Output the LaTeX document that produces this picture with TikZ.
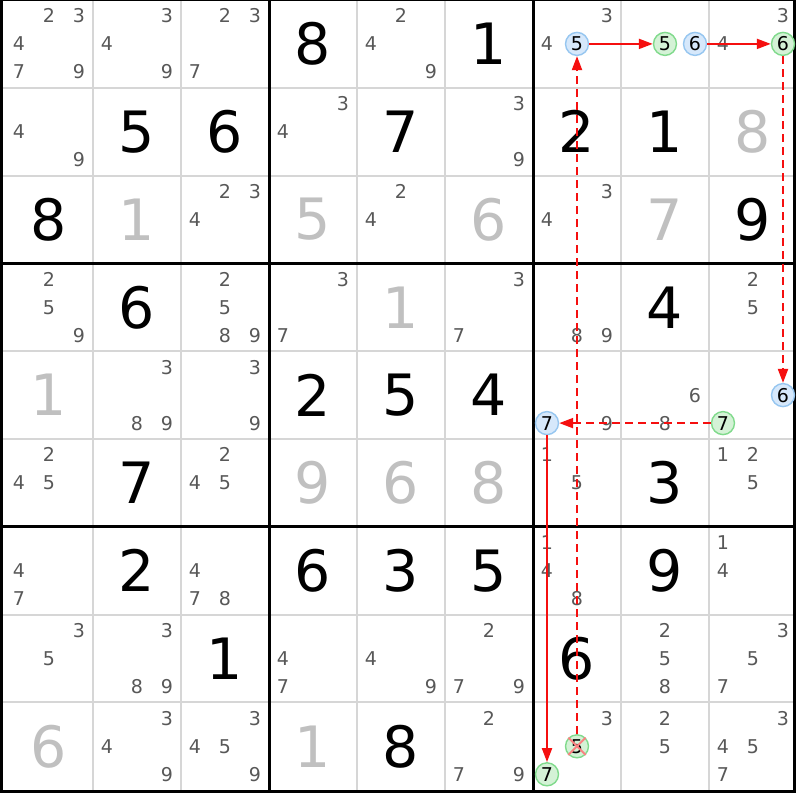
\documentclass[tikz,border=0pt]{standalone}
\usepackage{fontspec}
\setmainfont{DejaVu Sans}
\usetikzlibrary{arrows.meta}
\definecolor{pencil}{RGB}{88,88,88}
\definecolor{solved}{RGB}{192,192,192}
\definecolor{thinline}{RGB}{214,214,214}
\definecolor{bluefill}{RGB}{214,232,251}
\definecolor{blueline}{RGB}{150,198,240}
\definecolor{greenfill}{RGB}{212,242,214}
\definecolor{greenline}{RGB}{128,218,140}
\definecolor{arrred}{RGB}{245,15,15}
\definecolor{crossred}{RGB}{250,130,130}
\tikzset{
  bigdigit/.style={inner sep=0pt, font=\fontsize{57}{57}\selectfont},
  givenK/.style={bigdigit, text=black},
  givenG/.style={bigdigit, text=solved},
  pmark/.style={inner sep=0pt, text=pencil, font=\fontsize{19}{19}\selectfont},
  cmark/.style={circle, inner sep=0pt, minimum size=23pt, line width=1.4pt, text=black, font=\fontsize{19}{19}\selectfont},
  bc/.style={cmark, draw=blueline, fill=bluefill},
  gc/.style={cmark, draw=greenline, fill=greenfill},
  thingrid/.style={draw=thinline, line width=2pt},
  thickgrid/.style={draw=black, line width=3pt},
  arr/.style={draw=arrred, line width=2pt, -{Triangle[length=14pt,width=10pt]}},
  dasharr/.style={arr, dash pattern=on 8pt off 5pt},
  crossline/.style={draw=crossred, line width=2pt}
}
\begin{document}
\begin{tikzpicture}[x=1pt,y=-1pt]
\useasboundingbox (0,0) rectangle (800,800);
\fill[white] (0,0) rectangle (800,800);
% thin grid lines
\foreach \x in {93,181,357,445,621,709} \draw[thingrid] (\x,0) -- (\x,791);
\foreach \y in {87.8,175.6,351.2,439,614.6,702.4} \draw[thingrid] (1.5,\y) -- (794,\y);
% thick grid lines
\foreach \x in {269,533} \draw[thickgrid] (\x,0) -- (\x,791);
\foreach \y in {263.4,526.8} \draw[thickgrid] (1.5,\y) -- (794,\y);
\draw[thickgrid] (1.5,0) rectangle (794,791);
% big digits
\foreach \r/\c/\d/\k in {1/4/8/givenK,1/6/1/givenK,
  2/2/5/givenK,2/3/6/givenK,2/5/7/givenK,2/7/2/givenK,2/8/1/givenK,2/9/8/givenG,
  3/1/8/givenK,3/2/1/givenG,3/4/5/givenG,3/6/6/givenG,3/8/7/givenG,3/9/9/givenK,
  4/2/6/givenK,4/5/1/givenG,4/8/4/givenK,
  5/1/1/givenG,5/4/2/givenK,5/5/5/givenK,5/6/4/givenK,
  6/2/7/givenK,6/4/9/givenG,6/5/6/givenG,6/6/8/givenG,6/8/3/givenK,
  7/2/2/givenK,7/4/6/givenK,7/5/3/givenK,7/6/5/givenK,7/8/9/givenK,
  8/3/1/givenK,8/7/6/givenK,
  9/1/6/givenG,9/4/1/givenG,9/5/8/givenK}
{
  \pgfmathsetmacro\gx{49+88*(\c-1)}
  \pgfmathsetmacro\gy{43.9+87.8*(\r-1)}
  \node[\k] (g\r\c) at (\gx,\gy) {\d};
}
% pencil marks
\foreach \r/\c/\ds in {1/1/{2,3,4,7,9},1/2/{3,4,9},1/3/{2,3,7},1/5/{2,4,9},1/7/{3,4},1/9/{3,4},
  2/1/{4,9},2/4/{3,4},2/6/{3,9},
  3/3/{2,3,4},3/5/{2,4},3/7/{3,4},
  4/1/{2,5,9},4/3/{2,5,8,9},4/4/{3,7},4/6/{3,7},4/7/{8,9},4/9/{2,5},
  5/2/{3,8,9},5/3/{3,9},5/7/{9},5/8/{6,8},
  6/1/{2,4,5},6/3/{2,4,5},6/7/{1,5},6/9/{1,2,5},
  7/1/{4,7},7/3/{4,7,8},7/7/{1,4,8},7/9/{1,4},
  8/1/{3,5},8/2/{3,8,9},8/4/{4,7},8/5/{4,9},8/6/{2,7,9},8/8/{2,5,8},8/9/{3,5,7},
  9/2/{3,4,9},9/3/{3,4,5,9},9/6/{2,7,9},9/7/{3},9/8/{2,5},9/9/{3,4,5,7}}
{
  \foreach \d in \ds {
    \pgfmathsetmacro\px{49+88*(\c-1)+30*(mod(\d-1,3)-1)}
    \pgfmathsetmacro\py{43.9+87.8*(\r-1)+28*(floor((\d-1)/3)-1)}
    \node[pmark] (p\r\c\d) at (\px,\py) {\d};
  }
}
% circled candidates
\foreach \r/\c/\d/\st in {1/7/5/bc,1/8/5/gc,1/8/6/bc,1/9/6/gc,5/9/6/bc,5/9/7/gc,5/7/7/bc,9/7/7/gc,9/7/5/gc}
{
  \pgfmathsetmacro\px{49+88*(\c-1)+30*(mod(\d-1,3)-1)}
  \pgfmathsetmacro\py{43.9+87.8*(\r-1)+28*(floor((\d-1)/3)-1)}
  \node[\st] (c\r\c\d) at (\px,\py) {\d};
}
% eliminated candidate
\draw[crossline] (c975.north west) -- (c975.south east);
\draw[crossline] (c975.north east) -- (c975.south west);
% chain
\draw[arr] (c175) -- (c185);
\draw[arr] (c186) -- (c196);
\draw[dasharr] (c196) -- (c596);
\draw[dasharr] (c597) -- (c577);
\draw[arr] (c577) -- (c977);
\draw[dasharr] (c975) -- (c175);
\end{tikzpicture}
\end{document}
